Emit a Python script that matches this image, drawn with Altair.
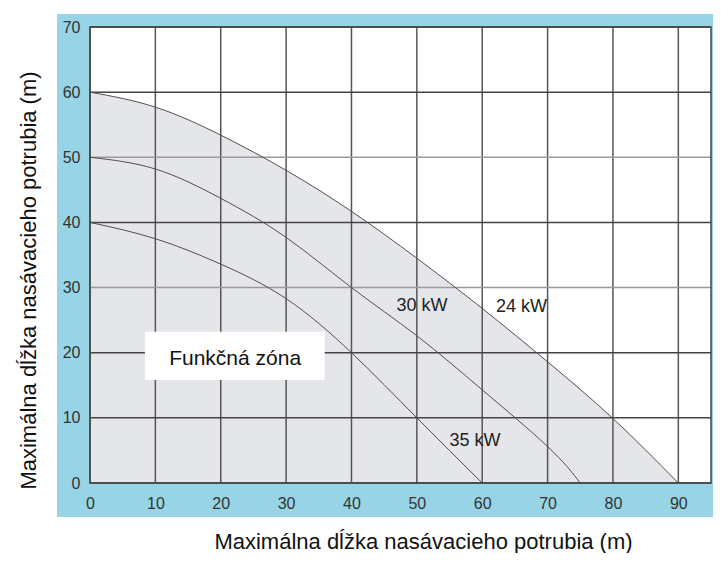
import altair as alt
import pandas as pd

# ---- data ----
X_24 = [0, 10, 20, 30, 40, 50, 60, 70, 80, 90]
Y_24 = [60, 57.7, 53.4, 48, 41.7, 34.5, 26.8, 18.6, 9.9, 0]
X_30 = [0, 10, 20, 30, 40, 50, 60, 70, 75]
Y_30 = [50, 48.2, 43.7, 37.7, 30, 22.6, 14.3, 5.6, 0]
X_35 = [0, 10, 20, 30, 40, 50, 60]
Y_35 = [40, 37.5, 33.6, 28.3, 20, 10, 0]

CURVE_LABELS = ["30 kW", "24 kW", "35 kW"]
LABEL_X = [50.8, 66.0, 58.9]
LABEL_Y = [27.2, 27.0, 6.5]

ZONE_TEXT = ["Funkčná zóna"]
ZONE_X = [8.4]
ZONE_X2 = [35.9]
ZONE_Y = [15.8]
ZONE_Y2 = [23.2]
ZONE_TX = [22.2]
ZONE_TY = [19.1]

X_TICKS = [0, 10, 20, 30, 40, 50, 60, 70, 80, 90]
Y_TICKS = [0, 10, 20, 30, 40, 50, 60, 70]
Y_GRID_COLORS = ["#444444", "#444444", "#444444", "#9a9a9a", "#444444", "#9a9a9a", "#444444", "#444444"]
X_MAX = 95
Y_MAX = 70

X_TITLE = "Maximálna dĺžka nasávacieho potrubia (m)"
Y_TITLE = "Maximálna dĺžka nasávacieho potrubia (m)"

# ---- style ----
W, H = 621, 456
BLUE = "#97d4e5"
FILL = "#e5e6ea"
FONT = "Liberation Sans"

xs = alt.Scale(domain=[0, X_MAX], nice=False, zero=False)
ys = alt.Scale(domain=[0, Y_MAX], nice=False, zero=False)

AX_X = alt.Axis(values=X_TICKS, title=X_TITLE, grid=False, domain=False, ticks=False,
                tickSize=0, labelFontSize=16, labelColor="#333333", labelFont=FONT,
                labelPadding=12, labelFlush=False, labelOverlap=False,
                titleFont=FONT, titleFontSize=22, titleFontWeight="normal",
                titleColor="#111111", titleX=333, titleY=65, titleAlign="center",
                titleBaseline="alphabetic", zindex=1)
AX_Y = alt.Axis(values=Y_TICKS, title=Y_TITLE, grid=False, domain=False, ticks=False,
                tickSize=0, labelFontSize=16, labelColor="#333333", labelFont=FONT,
                labelPadding=10, labelFlush=False, labelOverlap=False,
                titleFont=FONT, titleFontSize=22, titleFontWeight="normal",
                titleColor="#111111", titleX=-55, titleY=253, titleAlign="center",
                titleBaseline="alphabetic", zindex=1)

def X(field="x"):
    return alt.X(f"{field}:Q", scale=xs, axis=AX_X)

def Y(field="y"):
    return alt.Y(f"{field}:Q", scale=ys, axis=AX_Y)

df24 = pd.DataFrame({"x": X_24, "y": Y_24, "s": "24 kW"})
df30 = pd.DataFrame({"x": X_30, "y": Y_30, "s": "30 kW"})
df35 = pd.DataFrame({"x": X_35, "y": Y_35, "s": "35 kW"})
curves = pd.concat([df24, df30, df35], ignore_index=True)

vgrid = pd.DataFrame({"x": X_TICKS})
hgrid = pd.DataFrame({"y": Y_TICKS, "c": Y_GRID_COLORS})
labels = pd.DataFrame({"x": LABEL_X, "y": LABEL_Y, "t": CURVE_LABELS})
zone = pd.DataFrame({"x": ZONE_X, "x2": ZONE_X2, "y": ZONE_Y, "y2": ZONE_Y2,
                     "tx": ZONE_TX, "ty": ZONE_TY, "t": ZONE_TEXT})

frame = alt.Chart(pd.DataFrame({"a": [0]})).mark_rect(fill=BLUE).encode(
    x=alt.value(-33), x2=alt.value(W + 2), y=alt.value(-13), y2=alt.value(H + 34))
plotbg = alt.Chart(pd.DataFrame({"a": [0]})).mark_rect(fill="white").encode(
    x=alt.value(0), x2=alt.value(W), y=alt.value(0), y2=alt.value(H))

area = alt.Chart(df24).mark_area(color=FILL, interpolate="natural").encode(
    x=X(), y=Y())

vlines = alt.Chart(vgrid).mark_rule(color="#555555", strokeWidth=1.5).encode(x=X())
hlines = alt.Chart(hgrid).mark_rule(strokeWidth=1.5).encode(
    y=Y(), color=alt.Color("c:N", scale=None))

lines = alt.Chart(curves).mark_line(color="#505050", strokeWidth=1, interpolate="natural").encode(
    x=X(), y=Y(), detail="s:N")

zbox = alt.Chart(zone).mark_rect(fill="white").encode(
    x=X(), x2="x2:Q", y=Y(), y2="y2:Q")
ztext = alt.Chart(zone).mark_text(font=FONT, fontSize=21, color="#111111",
                                  align="center", baseline="middle").encode(
    x=X("tx"), y=Y("ty"), text="t:N")

ltext = alt.Chart(labels).mark_text(font=FONT, fontSize=18, color="#222222",
                                    align="center", baseline="middle").encode(
    x=X(), y=Y(), text="t:N")

border = alt.Chart(pd.DataFrame({"a": [0]})).mark_rect(
    filled=False, stroke="#444444", strokeWidth=1.5).encode(
    x=alt.value(0), x2=alt.value(W), y=alt.value(0), y2=alt.value(H))

chart = alt.layer(frame, plotbg, area, vlines, hlines, lines, zbox, ztext, ltext, border).properties(
    width=W, height=H,
    autosize=alt.AutoSizeParams(type="none"),
    padding={"left": 82, "top": 19, "right": 2, "bottom": 70},
    background="white",
).configure_view(stroke=None)

chart.save("out.html", embed_options={"renderer": "svg", "actions": False})
